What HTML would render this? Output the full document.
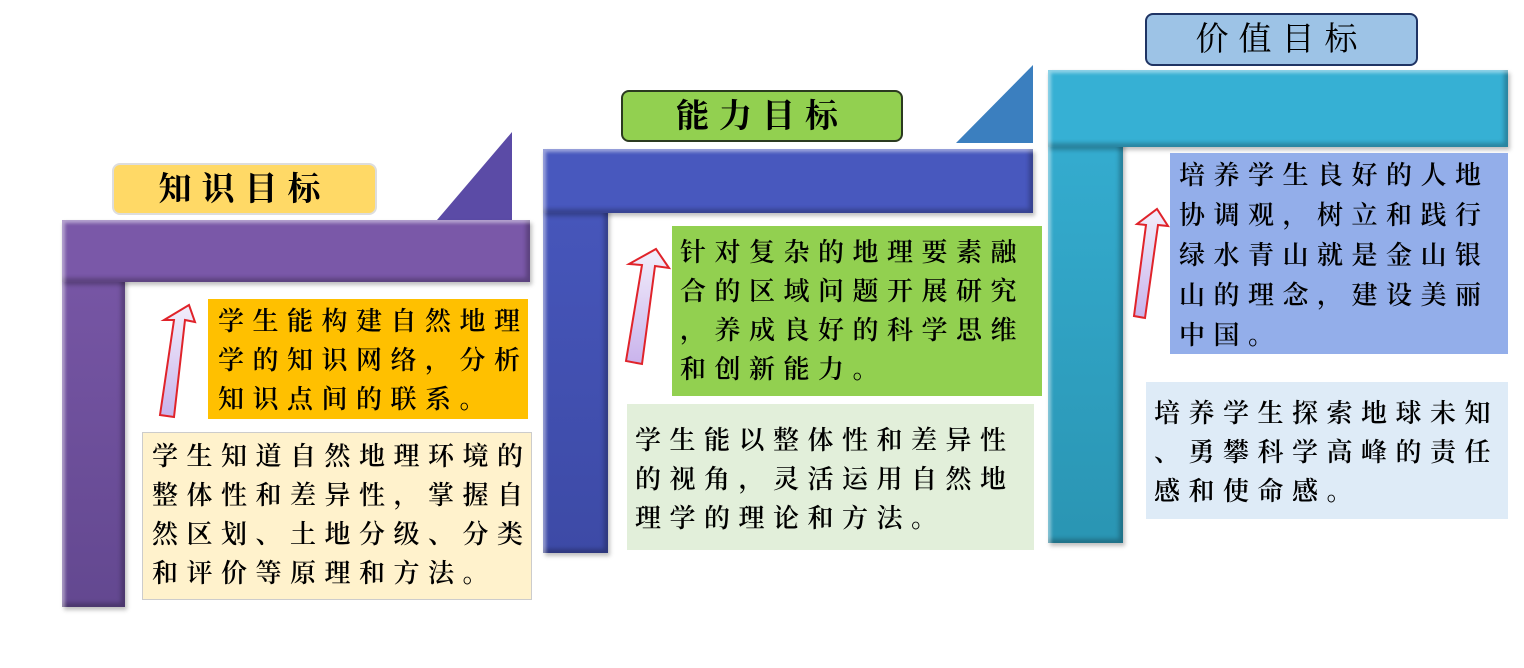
<!DOCTYPE html>
<html><head><meta charset="utf-8"><style>
body{margin:0;width:1524px;height:668px;background:#fff;position:relative;overflow:hidden;font-family:"Liberation Serif","Noto Serif CJK SC",serif}
.a{position:absolute;box-sizing:border-box}
.bar{box-shadow:inset 3px 3px 3px rgba(255,255,255,.45),inset -4px -4px 4px rgba(0,0,0,.25),2px 3px 4px rgba(0,0,0,.25)}
.t{font-size:26px;letter-spacing:8.5px;line-height:39px;color:#000;white-space:nowrap;font-weight:600}
.h{font-size:33px;letter-spacing:10px;text-align:center;border-radius:8px;line-height:50px;font-weight:bold}
</style></head><body>
<svg class="a" style="left:0;top:0" width="1524" height="668">
<defs>
<linearGradient id="ar" x1="0" y1="0" x2="0" y2="1"><stop offset="0" stop-color="#f2eefb"/><stop offset="1" stop-color="#c9b3ec"/></linearGradient>
</defs>
<polygon points="437,220 512,220 512,132" fill="#5b4ba6"/>
<polygon points="956,143 1033,143 1033,65" fill="#3b7fbf"/>
<polygon points="160,415 174,320 164,320 189,305 195,322 185,320 174,417" fill="url(#ar)" stroke="#e0232a" stroke-width="2"/>
<polygon points="626,361 642,265 629,264 656,249 669,268 655,266 642,364" fill="url(#ar)" stroke="#e0232a" stroke-width="2"/>
<polygon points="1134,316 1146,225 1137,224 1157,209 1168,226 1158,225 1145,318" fill="url(#ar)" stroke="#e0232a" stroke-width="2"/>
</svg>
<div class="a bar" style="left:62px;top:220px;width:63px;height:387px;background:linear-gradient(#7a58a8,#634890)"></div>
<div class="a bar" style="left:62px;top:220px;width:468px;height:62px;background:#7a58a8"></div>
<div class="a bar" style="left:543px;top:149px;width:65px;height:404px;background:linear-gradient(#4858be,#3d4aa6)"></div>
<div class="a bar" style="left:543px;top:149px;width:490px;height:64px;background:#4858be"></div>
<div class="a bar" style="left:1048px;top:70px;width:75px;height:473px;background:linear-gradient(#36b0d4,#2a95b3)"></div>
<div class="a bar" style="left:1048px;top:70px;width:460px;height:77px;background:#36b0d4"></div>

<div class="a h" style="left:112px;top:163px;width:265px;height:52px;background:#ffd966;border:2px solid #ddd">知识目标</div>
<div class="a h" style="left:621px;top:90px;width:282px;height:52px;background:#92d050;border:2px solid #2b3a20">能力目标</div>
<div class="a h" style="left:1145px;top:13px;width:273px;height:53px;background:#9dc3e6;border:2px solid #1f3464;font-weight:normal">价值目标</div>

<div class="a t" style="left:208px;top:299px;width:320px;height:120px;background:#ffc000;padding:3px 0 0 10px">学生能构建自然地理<br>学的知识网络，分析<br>知识点间的联系。</div>
<div class="a t" style="left:142px;top:432px;width:390px;height:168px;background:#fff2cc;border:1.5px solid #ccc;padding:4px 0 0 9px">学生知道自然地理环境的<br>整体性和差异性，掌握自<br>然区划、土地分级、分类<br>和评价等原理和方法。</div>

<div class="a t" style="left:672px;top:226px;width:370px;height:170px;background:#92d050;padding:7px 0 0 8px">针对复杂的地理要素融<br>合的区域问题开展研究<br>，养成良好的科学思维<br>和创新能力。</div>
<div class="a t" style="left:627px;top:404px;width:407px;height:146px;background:#e2efda;padding:17px 0 0 8px">学生能以整体性和差异性<br>的视角，灵活运用自然地<br>理学的理论和方法。</div>

<div class="a t" style="left:1170px;top:153px;width:338px;height:201px;background:#93aeea;padding:3px 0 0 9px;line-height:40px">培养学生良好的人地<br>协调观，树立和践行<br>绿水青山就是金山银<br>山的理念，建设美丽<br>中国。</div>
<div class="a t" style="left:1146px;top:382px;width:362px;height:137px;background:#deebf7;padding:12px 0 0 8px">培养学生探索地球未知<br>、勇攀科学高峰的责任<br>感和使命感。</div>
</body></html>
